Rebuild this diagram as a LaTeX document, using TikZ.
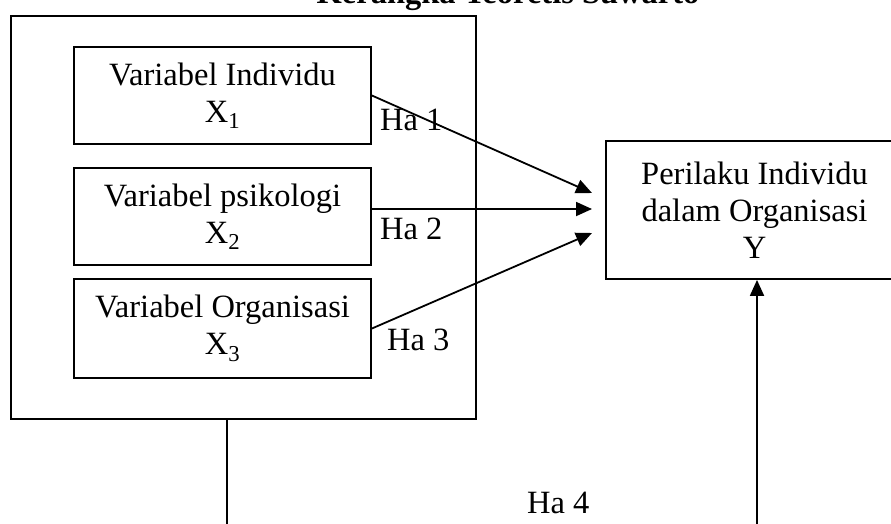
\documentclass[tikz,border=0pt]{standalone}
\usepackage{fontspec}
\setmainfont{Liberation Serif}
\usepackage{tikz}
\usetikzlibrary{arrows.meta,positioning}

\begin{document}
\begin{tikzpicture}[
  x=1pt, y=-1pt,
  varbox/.style={draw, rectangle, line width=1.8pt, minimum width=297pt, minimum height=97pt, align=center, font=\fontsize{32.5}{37}\selectfont, inner sep=0pt},
  outerbox/.style={draw, rectangle, line width=1.8pt, minimum width=465pt, minimum height=403pt, inner sep=0pt},
  halabel/.style={anchor=base west, font=\fontsize{32.5}{37}\selectfont, inner sep=0pt},
  arrow/.style={-{Triangle[length=16pt,width=14pt]}, line width=1.8pt}
]
\useasboundingbox (0,0) rectangle (891,523);
\clip (0,0) rectangle (891,523);

\node[anchor=base, font=\fontsize{32.5}{37}\selectfont\bfseries, inner sep=0pt] (title) at (508,3) {Kerangka Teoretis Suwarto};

\node[outerbox] (outer) at (243.5,217.5) {};
\node[varbox] (x1) at (222.5,95.5) {Variabel Individu\\X\textsubscript{1}};
\node[varbox] (x2) at (222.5,216.5) {Variabel psikologi\\X\textsubscript{2}};
\node[varbox, minimum height=99pt] (x3) at (222.5,328.5) {Variabel Organisasi\\X\textsubscript{3}};

\node[varbox, minimum height=138pt] (y) at (754.5,210) {Perilaku Individu\\dalam Organisasi\\Y};

\coordinate (t1) at (592,193);
\coordinate (t2) at (592,209);
\coordinate (t3) at (592,233);
\coordinate (bend1) at (227,560);
\coordinate (bend2) at (757,560);

\draw[arrow] (x1.east) -- (t1);
\draw[arrow] (x2.east |- t2) -- (t2);
\draw[arrow] (x3.east) -- (t3);
\draw[arrow] (outer.south -| bend1) -- (bend1) -- (bend2) -- (bend2 |- y.south);

\node[halabel] (ha1) at (380,130) {Ha 1};
\node[halabel] (ha2) at (380,239) {Ha 2};
\node[halabel] (ha3) at (387,350) {Ha 3};
\node[halabel] (ha4) at (527,513) {Ha 4};
\end{tikzpicture}
\end{document}
